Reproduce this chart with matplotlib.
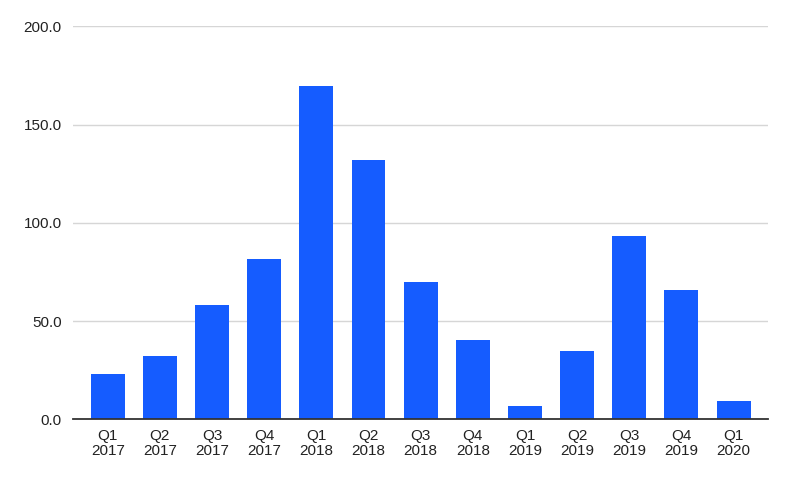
import numpy as np
import matplotlib.pyplot as plt

quarters = ['Q1\n2017', 'Q2\n2017', 'Q3\n2017', 'Q4\n2017',
            'Q1\n2018', 'Q2\n2018', 'Q3\n2018', 'Q4\n2018',
            'Q1\n2019', 'Q2\n2019', 'Q3\n2019', 'Q4\n2019',
            'Q1\n2020']
values = [23.2, 32.1, 58.3, 81.7, 169.6, 132.0, 69.7, 40.2,
          6.6, 34.8, 93.3, 65.6, 9.3]
y_ticks = [0, 50, 100, 150, 200]

plt.rcParams['font.family'] = ['Liberation Sans', 'DejaVu Sans']

fig = plt.figure(figsize=(8, 4.83), dpi=100)
ax = fig.add_axes([0.091, 0.132, 0.869, 0.8135])

x = np.arange(len(values))
ax.bar(x, values, width=0.65, color='#155cff', zorder=3)

ax.set_xlim(-0.67, len(values) - 1 + 0.66)
ax.set_ylim(0, 200)
ax.set_yticks(y_ticks)
ax.set_yticklabels([f'{v:.1f}' for v in y_ticks])
ax.set_xticks(x)
ax.set_xticklabels(quarters, linespacing=1.05)

ax.grid(axis='y', color='#d6d6d6', linewidth=1, zorder=0)
for s in ['top', 'right', 'left']:
    ax.spines[s].set_visible(False)
ax.spines['bottom'].set_color('#333333')
ax.spines['bottom'].set_linewidth(1.3)
ax.spines['bottom'].set_zorder(4)

ax.tick_params(axis='both', length=0, labelsize=11, colors='#222222')
ax.tick_params(axis='y', pad=8)
ax.tick_params(axis='x', pad=7)

fig.savefig('out.png', dpi=100)
